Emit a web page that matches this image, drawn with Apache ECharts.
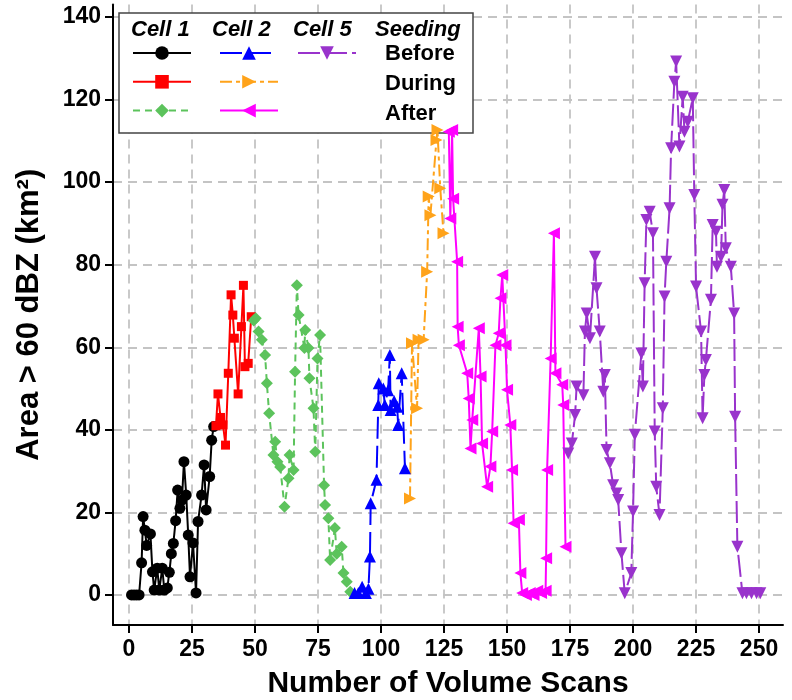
<!DOCTYPE html>
<html>
<head>
<meta charset="utf-8">
<script src="https://cdn.jsdelivr.net/npm/echarts@6/dist/echarts.min.js"></script>
<style>
  html, body { margin: 0; padding: 0; background: #fff; }
  #chart { width: 792px; height: 700px; }
</style>
</head>
<body>
<div id="chart"></div>
<script>
// tick labels
var xTicks = [0, 25, 50, 75, 100, 125, 150, 175, 200, 225, 250];
var yTicks = [0, 20, 40, 60, 80, 100, 120, 140];

// [volume scan, area > 60 dBZ (km2)]
var cell1Before = [[1,0],[2,0],[3,0],[4,0],[5,7.8],[5.6,19],[6.3,15.7],[7,12],[8.5,14.8],[9.3,5.6],[10,1.2],[11.2,6.5],[12,1.2],[13.2,6.5],[14,1.2],[15.2,1.7],[16,5.5],[16.8,10],[17.6,12.5],[18.5,18],[19.3,25.4],[20.2,21],[21,23],[21.8,32.3],[22.7,24.2],[23.5,14.5],[24.2,4.4],[25.4,12.6],[26.6,0.5],[27.4,17.8],[28.8,24.2],[29.8,31.5],[30.6,20.6],[32,28.7],[32.8,37.5],[33.6,40.8]];
var cell1During = [[34.5,41],[35.3,48.7],[36.3,43],[37.3,41.2],[38.3,36.3],[39.4,53.7],[40.5,72.7],[41.2,67.8],[41.8,62.2],[43.3,48.7],[44.6,65],[45.4,75],[46,55.3],[47.3,56.1],[48.5,67.4]];
var cell1After = [[49.5,66.5],[50.3,67],[51.4,63.8],[52.7,61.8],[54,58.1],[54.7,51.3],[55.6,44],[57.3,33.9],[58,37.1],[58.9,32.3],[60,31],[61.7,21.4],[63.3,28.3],[63.7,33.9],[65.3,30.3],[65.9,54.1],[66.6,75],[67.3,67.8],[69.6,59.8],[69.9,64.2],[71.2,59.8],[71.6,52.5],[73.2,45.2],[73.9,34.7],[74.8,57.3],[75.8,63],[77.4,26.6],[77.8,21.8],[79.1,18.6],[79.8,8.5],[81.7,16.2],[82.4,10],[84.4,11.7],[85.1,5.3],[86.4,3.2],[87.8,0.8]];
var cell2Before = [[89.5,0.5],[91,0.5],[92.5,2],[94,0.5],[95,1.5],[95.6,9.3],[95.9,22.2],[98.2,27.9],[98.9,46],[99.1,51.3],[100.9,50],[101.5,46],[102.8,49.6],[103.5,58.1],[103.8,44.8],[105.2,47],[106.4,45.6],[106.8,41.2],[108.2,53.7],[109.5,30.7]];
var cell2During = [[111.5,23.4],[112.3,61],[114.3,45.2],[114.9,61.8],[116.9,61.8],[118.3,78.3],[118.9,96.5],[119.6,92],[122,110.2],[122.4,112.6],[123.5,98.5],[124.8,87.6]];
var cell2After = [[126.9,112.2],[127.5,91.2],[128.2,112.6],[128.6,96],[130.2,80.7],[130.4,65],[130.9,60.5],[134.2,53.7],[134.8,47.6],[135.5,35.5],[136.2,42.4],[138.8,64.6],[139.5,52.9],[140.1,36.7],[142.1,26.2],[143.4,31.1],[144.1,39.6],[145.4,60.5],[146.7,63.4],[147.4,71.9],[148.1,77.5],[149.4,60.5],[150,49.7],[151.3,41.2],[152,30.3],[152.6,17.4],[154.7,18.2],[155.3,5.3],[156,0.5],[157.5,0],[159,0.5],[160.5,0],[162,1],[163.5,0.5],[165.3,1],[165.5,8.9],[165.9,30.3],[167.3,57.3],[168.6,87.6],[169.2,53.7],[171.9,50.9],[172.3,46],[173.2,11.7]];
var cell5Before = [[174.3,34.3],[175.7,36.7],[177,43.6],[177.6,50.5],[180.3,48.4],[180.9,63.8],[181.6,68.2],[182.9,62.2],[184.9,81.9],[185.5,74.3],[186.8,63.8],[188.2,49.2],[188.8,53.3],[189.5,35.1],[190.8,31.9],[192.1,26.6],[193.4,24.6],[194.1,23],[195.4,10.1],[196.7,0.4],[199.3,5.3],[200,20.2],[200.7,38.8],[203.3,58.5],[203.9,50.5],[204.6,75.5],[205.3,90.8],[206.6,92.8],[207.9,87.6],[208.6,39.6],[209.2,26.2],[210.5,19.4],[211.8,45.2],[212.5,72.3],[213.2,80.7],[214.5,93.7],[215.1,108.2],[216.4,124.3],[217.1,129.2],[218.4,108.6],[219.7,120.7],[220.4,112.2],[221.7,114.6],[223.7,120.3],[224.3,96.9],[225,74.7],[227,63.8],[227.6,42.8],[228.3,53.3],[228.9,56.9],[230.9,71.5],[231.6,89.6],[232.9,88],[233.3,79.5],[234.9,81.9],[235.5,94.5],[236.2,98.1],[236.8,84],[238.8,79.5],[240.1,68.2],[240.5,43.2],[241.4,11.7],[243.4,0.4],[245,0.4],[247,0.4],[249,0.4],[250.5,0.4]];

var FONT = 'Liberation Sans, Arial, Helvetica, sans-serif';

var chart = echarts.init(document.getElementById('chart'), null, { renderer: 'canvas' });

function line(name, data, color, symbol, size, rotate, dash) {
  return {
    name: name,
    type: 'line',
    data: data,
    symbol: symbol,
    symbolSize: size,
    symbolRotate: rotate,
    showAllSymbol: true,
    lineStyle: { color: color, width: 2, type: dash },
    itemStyle: { color: color, borderWidth: 0 },
    emphasis: { disabled: true }
  };
}

function legendCol(left, names) {
  return {
    data: names,
    orient: 'vertical',
    left: left,
    top: 44.5,
    itemWidth: 58,
    itemHeight: 17,
    itemGap: 13.5,
    padding: 0,
    selectedMode: false,
    formatter: function () { return ''; },
    textStyle: { fontSize: 1 }
  };
}

function label(text, x, y, italic) {
  return {
    type: 'text',
    x: x,
    y: y,
    z: 10,
    style: {
      text: text,
      fill: '#000',
      fontFamily: FONT,
      fontSize: 22,
      fontWeight: 'bold',
      fontStyle: italic ? 'italic' : 'normal',
      verticalAlign: 'middle'
    }
  };
}

var gridLine = { show: true, lineStyle: { color: '#c4c4c4', width: 1.8, type: [9, 6] } };

chart.setOption({
  animation: false,
  backgroundColor: '#fff',
  grid: { left: 113, right: 9, top: 4.6, bottom: 75, containLabel: false, outerBoundsMode: 'none' },
  xAxis: {
    type: 'value',
    min: -6.35,
    max: 259.5,
    name: 'Number of Volume Scans',
    nameLocation: 'middle',
    nameGap: 44,
    nameTextStyle: { fontFamily: FONT, fontSize: 30, fontWeight: 'bold', color: '#000' },
    axisLine: { show: true, onZero: false, lineStyle: { color: '#000', width: 2 } },
    axisTick: { show: true, customValues: xTicks, length: 8, lineStyle: { color: '#000', width: 2 } },
    axisLabel: { customValues: xTicks, margin: 13, fontFamily: FONT, fontSize: 23, fontWeight: 'bold', color: '#000' },
    splitLine: gridLine
  },
  yAxis: {
    type: 'value',
    min: -7.27,
    max: 143,
    name: 'Area > 60 dBZ (km²)',
    nameLocation: 'middle',
    nameGap: 68,
    nameRotate: 90,
    nameTextStyle: { fontFamily: FONT, fontSize: 31, fontWeight: 'bold', color: '#000' },
    axisLine: { show: true, onZero: false, lineStyle: { color: '#000', width: 2 } },
    axisTick: { show: true, customValues: yTicks, length: 8, lineStyle: { color: '#000', width: 2 } },
    axisLabel: { customValues: yTicks, margin: 12, fontFamily: FONT, fontSize: 23, fontWeight: 'bold', color: '#000' },
    splitLine: gridLine
  },
  legend: [
    legendCol(132, ['Cell 1 Before', 'Cell 1 During', 'Cell 1 After']),
    legendCol(219, ['Cell 2 Before', 'Cell 2 During', 'Cell 2 After']),
    legendCol(297, ['Cell 5 Before'])
  ],
  graphic: {
    elements: [
      {
        type: 'rect',
        z: 1,
        shape: { x: 119, y: 13, width: 354, height: 120 },
        style: { fill: '#fff', stroke: '#444', lineWidth: 1.5 }
      },
      label('Cell 1', 131, 30, true),
      label('Cell 2', 212, 30, true),
      label('Cell 5', 293, 30, true),
      label('Seeding', 375, 30, true),
      label('Before', 385, 54, false),
      label('During', 385, 84, false),
      label('After', 385, 114, false)
    ]
  },
  series: [
    line('Cell 1 Before', cell1Before, '#000000', 'circle', 11, 0, 'solid'),
    line('Cell 1 During', cell1During, '#ff0000', 'rect', 9, 0, 'solid'),
    line('Cell 1 After', cell1After, '#5cc35c', 'diamond', 12, 0, [7, 5]),
    line('Cell 2 Before', cell2Before, '#0000ff', 'triangle', 12, 0, [22, 7]),
    line('Cell 2 During', cell2During, '#ffa31a', 'triangle', 12, -90, [12, 4, 4, 4]),
    line('Cell 2 After', cell2After, '#ff00ff', 'triangle', 12, 90, 'solid'),
    line('Cell 5 Before', cell5Before, '#9933cc', 'triangle', 12, 180, [22, 5])
  ]
});
</script>
</body>
</html>
